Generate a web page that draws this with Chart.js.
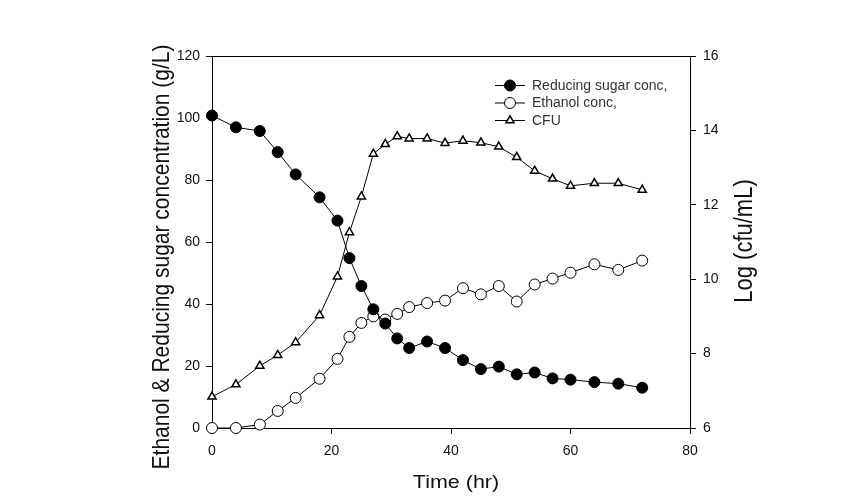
<!DOCTYPE html>
<html>
<head>
<meta charset="utf-8">
<script src="https://cdn.jsdelivr.net/npm/chart.js@4/dist/chart.umd.min.js"></script>
<style>
  html, body { margin: 0; padding: 0; background: #fff; }
  #wrap { width: 861px; height: 503px; }
</style>
</head>
<body>
<div id="wrap"><canvas id="c" width="861" height="503"></canvas></div>
<script>
// ---- data ----
const timeHr   = [0, 4, 8, 11, 14, 18, 21, 23, 25, 27, 29, 31, 33, 36, 39, 42, 45, 48, 51, 54, 57, 60, 64, 68, 72];
const sugarConc   = [100.8, 97.0, 95.8, 89.0, 81.8, 74.4, 66.9, 54.8, 45.8, 38.3, 33.7, 28.9, 25.8, 27.9, 25.8, 21.9, 19.0, 19.8, 17.3, 17.9, 16.0, 15.6, 14.8, 14.3, 13.0];
const ethanolConc = [0.0, 0.0, 1.1, 5.5, 9.7, 15.9, 22.3, 29.4, 33.9, 36.0, 35.0, 36.8, 39.0, 40.3, 41.1, 45.1, 43.1, 45.8, 40.8, 46.3, 48.2, 50.1, 52.8, 51.0, 54.0];
const cfuLog      = [6.84, 7.17, 7.67, 7.96, 8.30, 9.03, 10.07, 11.26, 12.22, 13.37, 13.63, 13.84, 13.78, 13.78, 13.66, 13.72, 13.67, 13.56, 13.28, 12.91, 12.70, 12.51, 12.58, 12.58, 12.40];
const seriesNames = ['Reducing sugar conc,', 'Ethanol conc,', 'CFU'];
const xTitle = 'Time (hr)';
const yLeftTitle = 'Ethanol & Reducing sugar concentration (g/L)';
const yRightTitle = 'Log (cfu/mL)';

const pts = (ys) => timeHr.map((t, i) => ({ x: t, y: ys[i] }));

const tickFont = { family: "'Liberation Sans', Arial, sans-serif", size: 14 };

function drawMarker(ctx, style, x, y) {
  ctx.beginPath();
  if (style === 'filled' || style === 'open') {
    ctx.arc(x, y, 5.5, 0, Math.PI * 2);
    ctx.fillStyle = style === 'filled' ? '#000' : '#fff';
    ctx.lineWidth = 1;
  } else {
    const r = 4.7;
    for (let k = 0; k < 3; k++) {
      const a = k * 2 * Math.PI / 3;
      const px = x + Math.sin(a) * r, py = y - Math.cos(a) * r;
      if (k === 0) ctx.moveTo(px, py); else ctx.lineTo(px, py);
    }
    ctx.closePath();
    ctx.fillStyle = '#fff';
    ctx.lineWidth = 1.5;
  }
  ctx.fill();
  ctx.strokeStyle = '#000';
  ctx.stroke();
}

const decor = {
  id: 'decor',
  beforeDatasetsDraw(chart) {
    const { ctx, chartArea: a } = chart;
    ctx.save();
    ctx.strokeStyle = '#000';
    ctx.lineWidth = 1;
    ctx.beginPath();
    ctx.moveTo(a.left, Math.round(a.top) + 0.5);
    ctx.lineTo(a.right + 0.5, Math.round(a.top) + 0.5);
    ctx.stroke();
    ctx.restore();
  },
  afterDraw(chart) {
    const { ctx, chartArea: a } = chart;
    ctx.save();
    ctx.fillStyle = '#111';
    // left title
    ctx.save();
    ctx.font = "21px 'Liberation Sans', Arial, sans-serif";
    ctx.textAlign = 'center';
    ctx.textBaseline = 'alphabetic';
    ctx.translate(169, 257);
    ctx.scale(1.15, 1);
    ctx.rotate(-Math.PI / 2);
    ctx.fillText(yLeftTitle, 0, 0);
    ctx.restore();
    // right title
    ctx.save();
    ctx.font = "22px 'Liberation Sans', Arial, sans-serif";
    ctx.textAlign = 'center';
    ctx.textBaseline = 'alphabetic';
    ctx.translate(752, 241);
    ctx.scale(1.15, 1);
    ctx.rotate(-Math.PI / 2);
    ctx.fillText(yRightTitle, 0, 0);
    ctx.restore();
    // x title
    ctx.save();
    ctx.font = "19px 'Liberation Sans', Arial, sans-serif";
    ctx.textAlign = 'center';
    ctx.textBaseline = 'alphabetic';
    ctx.translate(456, 488);
    ctx.scale(1.13, 1);
    ctx.fillText(xTitle, 0, 0);
    ctx.restore();
    // legend
    const styles = ['filled', 'open', 'tri'];
    const rows = [85, 102.5, 120];
    ctx.font = "14px 'Liberation Sans', Arial, sans-serif";
    ctx.textAlign = 'left';
    ctx.textBaseline = 'middle';
    rows.forEach((ry, i) => {
      ctx.strokeStyle = '#000';
      ctx.lineWidth = 1;
      ctx.beginPath();
      ctx.moveTo(495, ry + 0.5);
      ctx.lineTo(525, ry + 0.5);
      ctx.stroke();
      drawMarker(ctx, styles[i], 510, ry + 0.5);
      ctx.fillStyle = '#333';
      ctx.fillText(seriesNames[i], 532, ry + 1);
    });
    ctx.restore();
  }
};

new Chart(document.getElementById('c'), {
  type: 'line',
  data: {
    datasets: [
      {
        label: seriesNames[0], data: pts(sugarConc), yAxisID: 'y',
        borderColor: '#000', borderWidth: 1, backgroundColor: '#000',
        pointStyle: 'circle', pointRadius: 5.5, pointBorderWidth: 1,
        pointBackgroundColor: '#000', pointBorderColor: '#000',
        tension: 0, clip: false
      },
      {
        label: seriesNames[1], data: pts(ethanolConc), yAxisID: 'y',
        borderColor: '#000', borderWidth: 1, backgroundColor: '#fff',
        pointStyle: 'circle', pointRadius: 5.5, pointBorderWidth: 1,
        pointBackgroundColor: '#fff', pointBorderColor: '#000',
        tension: 0, clip: false
      },
      {
        label: seriesNames[2], data: pts(cfuLog), yAxisID: 'y2',
        borderColor: '#000', borderWidth: 1, backgroundColor: '#fff',
        pointStyle: 'triangle', pointRadius: 4.7, pointBorderWidth: 1.5,
        pointBackgroundColor: '#fff', pointBorderColor: '#000',
        tension: 0, clip: false
      }
    ]
  },
  options: {
    responsive: false,
    animation: false,
    devicePixelRatio: 1,
    layout: { padding: { left: 0, right: 0, top: 56, bottom: 0 } },
    plugins: { legend: { display: false }, tooltip: { enabled: false } },
    scales: {
      x: {
        type: 'linear', position: 'bottom', min: 0, max: 80,
        ticks: { stepSize: 20, color: '#111', font: tickFont, padding: 9, maxRotation: 0 },
        grid: { drawOnChartArea: false, drawTicks: true, tickLength: 6, color: '#000' },
        border: { display: true, color: '#000', width: 1 },
        afterFit: (s) => { s.height = 75; }
      },
      y: {
        type: 'linear', position: 'left', min: 0, max: 120,
        ticks: { stepSize: 20, color: '#111', font: tickFont, padding: 6 },
        grid: { drawOnChartArea: false, drawTicks: true, tickLength: 6, color: '#000' },
        border: { display: true, color: '#000', width: 1 },
        afterFit: (s) => { s.width = 212; }
      },
      y2: {
        type: 'linear', position: 'right', min: 6, max: 16,
        ticks: { stepSize: 2, color: '#111', font: tickFont, padding: 7 },
        grid: { drawOnChartArea: false, drawTicks: true, tickLength: 6, color: '#000' },
        border: { display: true, color: '#000', width: 1 },
        afterFit: (s) => { s.width = 171; }
      }
    }
  },
  plugins: [decor]
});
</script>
</body>
</html>
